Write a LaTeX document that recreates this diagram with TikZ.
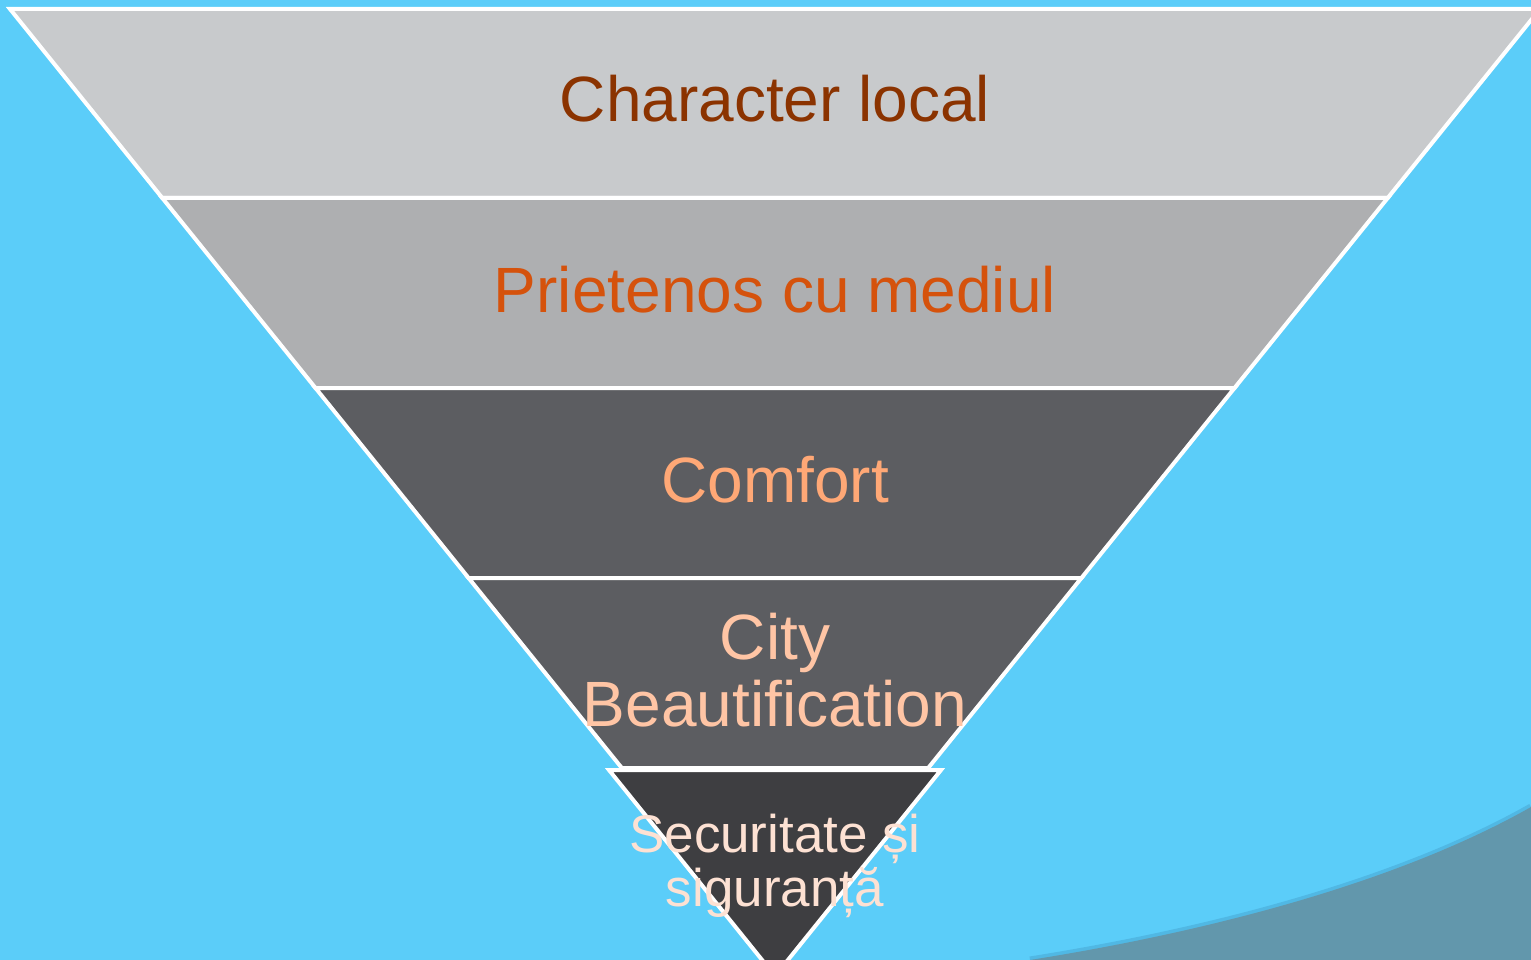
\documentclass[tikz,border=0pt]{standalone}
\usepackage{fontspec}
\setmainfont{Liberation Sans}
\usepackage{xcolor}

\definecolor{skyback}{HTML}{5BCDF9}
\definecolor{seadark}{HTML}{6297AC}
\definecolor{seashade}{HTML}{4AAAD6}
\definecolor{bandA}{HTML}{C8CACC}
\definecolor{bandB}{HTML}{AEAFB1}
\definecolor{bandC}{HTML}{5C5D61}
\definecolor{bandD}{HTML}{3E3E41}
\definecolor{textA}{HTML}{8B3300}
\definecolor{textB}{HTML}{D5520C}
\definecolor{textC}{HTML}{FFA876}
\definecolor{textD}{HTML}{FFC5A5}
\definecolor{textE}{HTML}{FDE1D3}

\begin{document}
\begin{tikzpicture}[x=1pt, y=-1pt,
  band/.style={draw=white, line width=4pt, line join=miter},
  levelText/.style={inner sep=0pt, font=\fontsize{64}{67}\selectfont, align=center}]

% Background and frame
\useasboundingbox (0,0) rectangle (1531,960);
\clip (0,0) rectangle (1531,960);
\fill[skyback] (0,0) rectangle (1531,960);

% Darker wave in the lower right corner
\draw[seashade, line width=7pt, opacity=0.6] (1030,960) .. controls (1250,925) and (1420,870) .. (1531,807);
\fill[seadark] (1030,960) .. controls (1250,925) and (1420,870) .. (1531,807) -- (1531,960) -- cycle;

% Funnel bands (top to bottom)
\filldraw[band, fill=bandA] (10,9) -- (1540,9) -- (1387.7,198) -- (162.3,198) -- cycle;
\filldraw[band, fill=bandB] (162.3,198) -- (1387.7,198) -- (1234.5,388) -- (315.5,388) -- cycle;
\filldraw[band, fill=bandC] (315.5,388) -- (1234.5,388) -- (1081.4,578) -- (468.6,578) -- cycle;
\filldraw[band, fill=bandC] (468.6,578) -- (1081.4,578) -- (928.2,768) -- (621.8,768) -- cycle;

% Bottom tip, a little larger than the funnel
\filldraw[band, fill=bandD] (609,770) -- (941,770) -- (775,976) -- cycle;

% Texts of the levels
\node[levelText, anchor=base, text=textA] (character) at (775,122) {Character local};
\node[levelText, anchor=base, text=textB] (prietenos) at (775,312) {Prietenos cu mediul};
\node[levelText, anchor=base, text=textC] (comfort) at (775,502) {Comfort};
\node[levelText, text=textD] (city) at (775,670) {City\\Beautification};
\node[levelText, text=textE, font=\fontsize{53}{54}\selectfont] (securitate) at (775,866) {Securitate și\\siguranță};

\end{tikzpicture}
\end{document}
